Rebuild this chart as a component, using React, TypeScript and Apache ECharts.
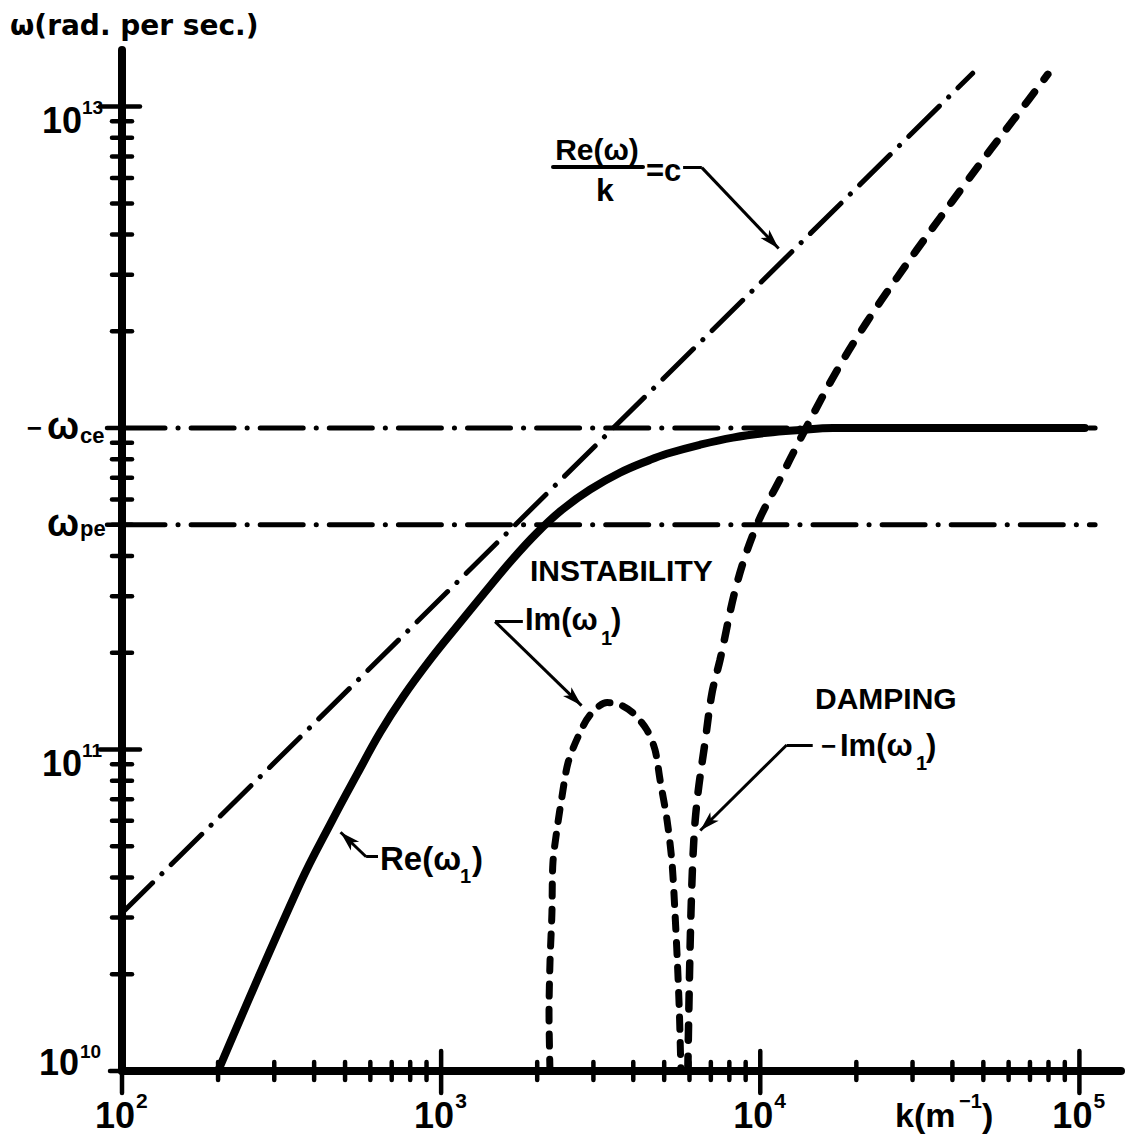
import React, { useEffect, useRef } from "react";
import * as echarts from "echarts";

const FONT = '"Liberation Sans", Arial, sans-serif';
const TITLE_FONT = '"DejaVu Sans", sans-serif';

// axis ranges
const K_MIN = 100;
const K_MAX = 135000;
const W_MIN = 1e10;
const W_MAX = 1.5e13;

// ticks
const xMajorTicks = [100, 1000, 10000, 100000];
const xMajorExponents = ["2", "3", "4", "5"];
const xMinorTicks = [
  200, 300, 400, 500, 600, 700, 800, 900,
  2000, 3000, 4000, 5000, 6000, 7000, 8000, 9000,
  20000, 30000, 40000, 50000, 60000, 70000, 80000, 90000,
];
const yMajorTicks = [1e10, 1e11, 1e13];
const yMajorExponents = ["10", "11", "13"];
const yMinorTicks = [
  2e10, 3e10, 4e10, 5e10, 6e10, 7e10, 8e10, 9e10,
  2e11, 3e11, 4e11, 5e11, 6e11, 7e11, 8e11, 9e11,
  2e12, 3e12, 4e12, 5e12, 6e12, 7e12, 8e12, 9e12,
];

// reference frequencies
const omegaCe = 1.0e12;
const omegaPe = 5.0e11;
const refLineK = [100, 112000];
const refLabelPrefix = ["\u2212", ""];
const refLabelSub = ["ce", "pe"];

// light line Re(w)/k = c
const lightK = [100, 46300];
const lightW = [3.1e10, 1.27e13];

// Re(w1)
const reK = [200, 361, 455, 546, 644, 760, 923, 1130, 1373, 1667, 1996, 2393, 2926, 3631, 4508, 5096, 6467, 8204, 10500, 13300, 16900, 30000, 104000];
const reW = [1.0e10, 3.82e10, 6.0e10, 8.4e10, 1.13e11, 1.46e11, 1.9e11, 2.44e11, 3.09e11, 3.89e11, 4.72e11, 5.57e11, 6.43e11, 7.26e11, 7.96e11, 8.32e11, 8.87e11, 9.34e11, 9.67e11, 9.86e11, 1.0e12, 1.0e12, 1.0e12];

// Im(w1) instability
const instK = [2193, 2178, 2193, 2224, 2240, 2305, 2391, 2497, 2683, 2926, 3311, 3633, 3990, 4415, 4680, 4853, 5103, 5290, 5405, 5500, 5580, 5640];
const instW = [1.0e10, 1.51e10, 2.17e10, 3.1e10, 4.44e10, 5.62e10, 7.13e10, 9.08e10, 1.094e11, 1.28e11, 1.4e11, 1.38e11, 1.3e11, 1.15e11, 9.97e10, 8.04e10, 6.04e10, 4.44e10, 3.1e10, 2.17e10, 1.51e10, 1.0e10];

// -Im(w1) damping
const dampK = [5930, 5970, 6065, 6200, 6380, 6710, 7060, 7480, 8460, 9760, 11500, 13300, 15450, 17450, 19860, 23170, 26910, 30900, 36780, 43100, 52700, 63170, 79600];
const dampW = [1.0e10, 1.51e10, 3.1e10, 5.35e10, 7.33e10, 1.05e11, 1.5e11, 1.9e11, 3.3e11, 5.0e11, 6.9e11, 9.18e11, 1.22e12, 1.52e12, 1.88e12, 2.38e12, 2.95e12, 3.58e12, 4.54e12, 5.62e12, 7.35e12, 9.29e12, 1.26e13];

// annotation leaders: [text end, corner, arrow]
const cLeaderK = [5730, 6560, 11420];
const cLeaderW = [6.46e12, 6.46e12, 3.62e12];
const instLeaderK = [1803, 1476, 2754];
const instLeaderW = [2.5e11, 2.5e11, 1.37e11];
const dampLeaderK = [14600, 12100, 6486];
const dampLeaderW = [1.033e11, 1.033e11, 5.6e10];
const reLeaderK = [634, 582, 484];
const reLeaderW = [4.64e10, 4.64e10, 5.53e10];

const zip = (a: number[], b: number[]) => a.map((v, i) => [v, b[i]]);

const tickStyle = { stroke: "#000", lineWidth: 4.5, lineCap: "round" };
const tstyle = (text: string, size: number, align: string, family = FONT) => ({
  text,
  font: `bold ${size}px ${family}`,
  fill: "#000",
  align,
  verticalAlign: "middle",
});

function leader(k: number[], w: number[]) {
  return [
    [{ coord: [k[0], w[0]] }, { coord: [k[1], w[1]] }],
    [{ coord: [k[1], w[1]] }, { coord: [k[2], w[2]], symbol: "arrow", symbolSize: [9, 20] }],
  ];
}

function buildOption(): any {
  const dashDot = [43, 13, 0.1, 13];
  const gtext = (text: string, x: number, y: number, size: number, align = "left", family = FONT) => ({
    type: "text",
    x,
    y,
    silent: true,
    z: 100,
    style: tstyle(text, size, align, family),
  });

  return {
    animation: false,
    backgroundColor: "#fff",
    grid: { left: 122, right: 13, top: 50, bottom: 63 },
    xAxis: {
      type: "log",
      logBase: 10,
      min: K_MIN,
      max: K_MAX,
      axisLine: { show: true, onZero: false, lineStyle: { color: "#000", width: 8, cap: "round" } },
      axisTick: { show: false },
      axisLabel: { show: false },
      splitLine: { show: false },
    },
    yAxis: {
      type: "log",
      logBase: 10,
      min: W_MIN,
      max: W_MAX,
      axisLine: { show: true, onZero: false, lineStyle: { color: "#000", width: 8, cap: "round" } },
      axisTick: { show: false },
      axisLabel: { show: false },
      splitLine: { show: false },
    },
    graphic: [
      gtext("\u03c9(rad. per sec.)", 10, 25, 28, "left", TITLE_FONT),
      gtext("Re(\u03c9)", 597, 149, 30, "center"),
      {
        type: "line",
        silent: true,
        z: 100,
        shape: { x1: 553, y1: 167, x2: 643, y2: 167 },
        style: { stroke: "#000", lineWidth: 4, lineCap: "round" },
      },
      gtext("k", 605, 190, 32, "center"),
      gtext("=c", 646, 170, 31),
      gtext("INSTABILITY", 530, 570, 30),
      gtext("Im(\u03c9", 525, 619, 31),
      gtext("1", 601, 638, 20),
      gtext(")", 611, 619, 31),
      gtext("DAMPING", 815, 698, 30),
      gtext("\u2212", 821, 746, 26),
      gtext("Im(\u03c9", 840, 745, 31),
      gtext("1", 916, 763, 20),
      gtext(")", 926, 745, 31),
      gtext("Re(\u03c9", 380, 858, 33),
      gtext("1", 460, 876, 20),
      gtext(")", 472, 858, 33),
      gtext("k(m", 895, 1115, 34),
      gtext("\u22121", 959, 1101, 20),
      gtext(")", 982, 1115, 34),
    ],
    series: [
      {
        type: "line",
        name: "Re(w)/k=c",
        data: zip(lightK, lightW),
        symbol: "none",
        silent: true,
        lineStyle: { color: "#000", width: 5, type: dashDot, cap: "round" },
      },
      {
        type: "line",
        name: "wce",
        data: refLineK.map((k) => [k, omegaCe]),
        symbol: "none",
        silent: true,
        lineStyle: { color: "#000", width: 5, type: dashDot, cap: "round" },
      },
      {
        type: "line",
        name: "wpe",
        data: refLineK.map((k) => [k, omegaPe]),
        symbol: "none",
        silent: true,
        lineStyle: { color: "#000", width: 5, type: dashDot, cap: "round" },
      },
      {
        type: "line",
        name: "Re(w1)",
        data: zip(reK, reW),
        symbol: "none",
        smooth: 0.4,
        silent: true,
        lineStyle: { color: "#000", width: 8, cap: "round", join: "round" },
      },
      {
        type: "line",
        name: "Im(w1)",
        data: zip(instK, instW),
        symbol: "none",
        smooth: 0.3,
        silent: true,
        lineStyle: { color: "#000", width: 7, type: [12, 13], cap: "round" },
      },
      {
        type: "line",
        name: "-Im(w1)",
        data: zip(dampK, dampW),
        symbol: "none",
        smooth: 0.35,
        silent: true,
        lineStyle: { color: "#000", width: 7.5, type: [15, 16], cap: "round" },
      },
      {
        type: "line",
        name: "annotations",
        data: [],
        silent: true,
        markLine: {
          silent: true,
          symbol: ["none", "none"],
          label: { show: false },
          emphasis: { disabled: true },
          lineStyle: { color: "#000", width: 3, type: "solid" },
          data: [
            ...leader(cLeaderK, cLeaderW),
            ...leader(instLeaderK, instLeaderW),
            ...leader(dampLeaderK, dampLeaderW),
            ...leader(reLeaderK, reLeaderW),
          ],
        },
      },
      {
        type: "custom",
        name: "xMinor",
        silent: true,
        data: xMinorTicks.map((v) => [v, W_MIN]),
        renderItem: (params: any, api: any) => {
          const p = api.coord([api.value(0), W_MIN]);
          return {
            type: "line",
            shape: { x1: p[0], y1: p[1] - 9, x2: p[0], y2: p[1] + 9 },
            style: tickStyle,
          };
        },
      },
      {
        type: "custom",
        name: "yMinor",
        silent: true,
        data: yMinorTicks.map((v) => [K_MIN, v]),
        renderItem: (params: any, api: any) => {
          const p = api.coord([K_MIN, api.value(1)]);
          return {
            type: "line",
            shape: { x1: p[0] - 10, y1: p[1], x2: p[0] + 10, y2: p[1] },
            style: tickStyle,
          };
        },
      },
      {
        type: "custom",
        name: "xMajor",
        silent: true,
        data: xMajorTicks.map((v) => [v, W_MIN]),
        renderItem: (params: any, api: any) => {
          const i = params.dataIndex;
          const p = api.coord([api.value(0), W_MIN]);
          const first = i === 0;
          return {
            type: "group",
            children: [
              {
                type: "line",
                shape: { x1: p[0], y1: first ? p[1] : p[1] - 20, x2: p[0], y2: p[1] + 22 },
                style: tickStyle,
              },
              { type: "text", x: p[0] + 13, y: p[1] + 44, style: tstyle("10", 36, "right") },
              { type: "text", x: p[0] + 14, y: p[1] + 29, style: tstyle(xMajorExponents[i], 21, "left") },
            ],
          };
        },
      },
      {
        type: "custom",
        name: "yMajor",
        silent: true,
        data: yMajorTicks.map((v) => [K_MIN, v]),
        renderItem: (params: any, api: any) => {
          const i = params.dataIndex;
          const v = api.value(1);
          const p = api.coord([K_MIN, v]);
          const bottom = v === W_MIN;
          return {
            type: "group",
            children: [
              {
                type: "line",
                shape: { x1: bottom ? p[0] - 12 : p[0] - 22, y1: p[1], x2: bottom ? p[0] : p[0] + 18, y2: p[1] },
                style: tickStyle,
              },
              {
                type: "text",
                x: bottom ? p[0] - 43 : p[0] - 40,
                y: bottom ? p[1] - 9 : p[1] + 14,
                style: tstyle("10", 36, "right"),
              },
              {
                type: "text",
                x: bottom ? p[0] - 42 : p[0] - 40,
                y: bottom ? p[1] - 20 : p[1] + 1,
                style: tstyle(yMajorExponents[i], 19, "left"),
              },
            ],
          };
        },
      },
      {
        type: "custom",
        name: "refLabels",
        silent: true,
        data: [[K_MIN, omegaCe], [K_MIN, omegaPe]],
        renderItem: (params: any, api: any) => {
          const i = params.dataIndex;
          const p = api.coord([K_MIN, api.value(1)]);
          const children: any[] = [
            {
              type: "line",
              shape: { x1: p[0] - 15, y1: p[1], x2: p[0], y2: p[1] },
              style: tickStyle,
            },
            { type: "text", x: p[0] - 43, y: p[1] - 2, style: tstyle("\u03c9", 38, "right") },
            { type: "text", x: p[0] - 42, y: p[1] + (i === 0 ? 7 : 4), style: tstyle(refLabelSub[i], 22, "left") },
          ];
          if (refLabelPrefix[i]) {
            children.push({ type: "text", x: p[0] - 80, y: p[1], style: tstyle(refLabelPrefix[i], 26, "right") });
          }
          return { type: "group", children };
        },
      },
    ],
  };
}

export default function App() {
  const ref = useRef<HTMLDivElement>(null);
  useEffect(() => {
    if (!ref.current) return;
    const chart = echarts.init(ref.current, undefined, { renderer: "svg" });
    chart.setOption(buildOption());
    return () => chart.dispose();
  }, []);
  return (
    <div
      ref={ref}
      style={{ position: "absolute", left: 0, top: 0, width: 1134, height: 1134, background: "#fff" }}
    />
  );
}
